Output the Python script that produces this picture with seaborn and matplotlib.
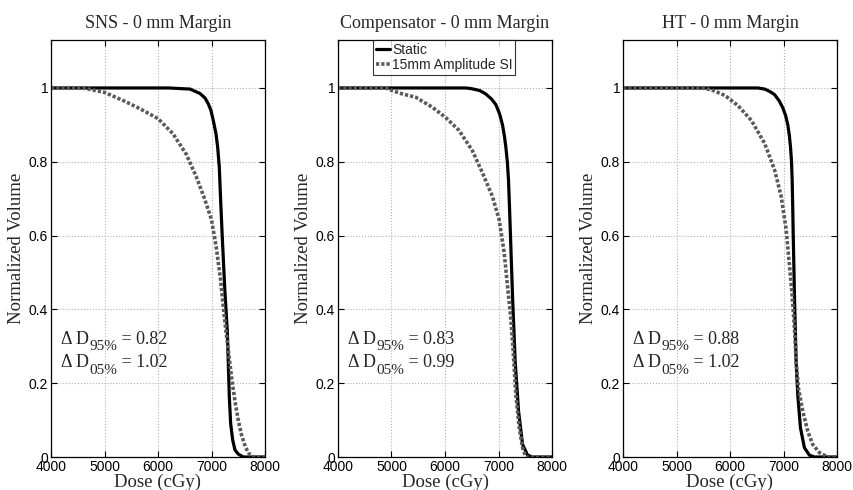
import matplotlib
matplotlib.use("Agg")
import matplotlib.pyplot as plt
import seaborn as sns
import pandas as pd

# ---- data (dose in cGy, normalized volume) ----
panel_titles = ["SNS - 0 mm Margin", "Compensator - 0 mm Margin", "HT - 0 mm Margin"]
series_names = ["Static", "15mm Amplitude SI"]
delta_d95 = ["0.82", "0.83", "0.88"]
delta_d05 = ["1.02", "0.99", "1.02"]

sns_static_dose = [4000, 6200, 6600, 6785, 6878, 6940, 6990, 7033, 7084, 7115, 7146, 7171, 7200, 7250,
                   7296, 7314, 7333, 7358, 7396, 7439, 7500, 7594, 8000]
sns_static_vol = [1.0, 1.0, 0.997, 0.985, 0.973, 0.957, 0.939, 0.912, 0.876, 0.84, 0.785, 0.695, 0.60, 0.45,
                  0.34, 0.254, 0.163, 0.091, 0.046, 0.019, 0.008, 0.0, 0.0]
sns_motion_dose = [4000, 4600, 5000, 5350, 5660, 6000, 6280, 6530, 6714, 6870, 7000, 7087, 7170, 7224,
                   7280, 7330, 7380, 7440, 7500, 7560, 7640, 7720, 7780, 8000]
sns_motion_vol = [1.0, 1.0, 0.988, 0.966, 0.944, 0.917, 0.876, 0.82, 0.76, 0.70, 0.643, 0.57, 0.48, 0.40,
                  0.33, 0.27, 0.21, 0.15, 0.10, 0.06, 0.025, 0.005, 0.0, 0.0]

comp_static_dose = [4000, 6390, 6500, 6650, 6760, 6870, 6950, 7020, 7075, 7110, 7137, 7165, 7187, 7205,
                    7220, 7262, 7312, 7375, 7450, 7543, 7637, 8000]
comp_static_vol = [1.0, 1.0, 0.998, 0.993, 0.984, 0.97, 0.955, 0.93, 0.90, 0.87, 0.84, 0.80, 0.75, 0.68,
                   0.616, 0.437, 0.258, 0.124, 0.034, 0.005, 0.0, 0.0]
comp_motion_dose = [4000, 4890, 5012, 5200, 5450, 5762, 6012, 6262, 6512, 6700, 6887, 7012, 7106, 7168,
                    7231, 7275, 7325, 7387, 7450, 7512, 8000]
comp_motion_vol = [1.0, 1.0, 0.993, 0.984, 0.975, 0.948, 0.92, 0.885, 0.83, 0.77, 0.706, 0.643, 0.554,
                   0.464, 0.375, 0.285, 0.168, 0.079, 0.025, 0.0, 0.0]

ht_static_dose = [4000, 6523, 6650, 6750, 6833, 6920, 6988, 7040, 7081, 7110, 7131, 7150, 7162, 7172,
                  7180, 7205, 7236, 7267, 7317, 7391, 7484, 7577, 8000]
ht_static_vol = [1.0, 1.0, 0.997, 0.99, 0.982, 0.965, 0.946, 0.925, 0.90, 0.87, 0.84, 0.80, 0.75, 0.68,
                 0.616, 0.437, 0.258, 0.168, 0.079, 0.025, 0.005, 0.0, 0.0]
ht_motion_dose = [4000, 5470, 5655, 5903, 6151, 6400, 6647, 6833, 6957, 7050, 7112, 7162, 7205, 7236,
                  7280, 7360, 7453, 7546, 7670, 7825, 8000]
ht_motion_vol = [1.0, 1.0, 0.995, 0.98, 0.952, 0.912, 0.85, 0.778, 0.706, 0.616, 0.518, 0.437, 0.348,
                 0.258, 0.186, 0.124, 0.07, 0.034, 0.012, 0.0, 0.0]

x_ticks = [4000, 5000, 6000, 7000, 8000]
y_ticks = [0, 0.2, 0.4, 0.6, 0.8, 1.0]
y_tick_labels = ["0", "0.2", "0.4", "0.6", "0.8", "1"]

curves = [
    [(sns_static_dose, sns_static_vol), (sns_motion_dose, sns_motion_vol)],
    [(comp_static_dose, comp_static_vol), (comp_motion_dose, comp_motion_vol)],
    [(ht_static_dose, ht_static_vol), (ht_motion_dose, ht_motion_vol)],
]

sns.set_style("ticks")
plt.rcParams["font.family"] = ["Liberation Sans", "DejaVu Sans"]

serif = ["Liberation Serif", "DejaVu Serif"]

fig = plt.figure(figsize=(8.54, 4.90), dpi=100)
lefts = [51 / 854, 338 / 854, 623 / 854]
width = 214 / 854
bottom = 33 / 490
height = 417 / 490

line_styles = [dict(color="black", linewidth=2.3, linestyle="-"),
               dict(color="#5a5a5a", linewidth=2.6, linestyle=(0, (0.9, 0.55)))]


def delta_label(ax, y, sub, value):
    # "Δ D" + lowered subscript + " = value", chained off each other
    t1 = ax.text(4190, y, "\u0394 D", family=serif, fontsize=13, va="bottom")
    t2 = ax.annotate(sub, xy=(1, 0.05), xycoords=t1, family=serif, fontsize=11,
                     va="center", ha="left")
    ax.annotate(" = " + value, xy=(1, 0), xycoords=(t2, t1), family=serif,
                fontsize=13, va="bottom", ha="left")


for k in range(3):
    ax = fig.add_axes([lefts[k], bottom, width, height])
    for j, (dose, vol) in enumerate(curves[k]):
        df = pd.DataFrame({"Dose": dose, "Volume": vol})
        sns.lineplot(data=df, x="Dose", y="Volume", ax=ax, errorbar=None,
                     label=series_names[j], **line_styles[j])
    ax.set_xlim(4000, 8000)
    ax.set_ylim(0, 1.13)
    ax.set_xticks(x_ticks)
    ax.set_yticks(y_ticks)
    ax.set_yticklabels(y_tick_labels)
    ax.grid(True, color="#b0b0b0", linestyle=":", linewidth=0.8)
    ax.tick_params(direction="in", top=True, right=True, length=4, width=0.8,
                   labelsize=10, pad=2, colors="black")
    for sp in ax.spines.values():
        sp.set_linewidth(0.9)
        sp.set_color("black")
    ax.set_title(panel_titles[k], family=serif, fontsize=13, pad=9)
    ax.set_xlabel("Dose (cGy)", family=serif, fontsize=13.5, labelpad=0)
    ax.set_ylabel("Normalized Volume", family=serif, fontsize=13.5, labelpad=3)
    delta_label(ax, 0.296, "95%", delta_d95[k])
    delta_label(ax, 0.232, "05%", delta_d05[k])
    if k == 1:
        leg = ax.legend(loc="upper left", bbox_to_anchor=(0.165, 1.0),
                        borderaxespad=0, fontsize=10, handlelength=1.0,
                        handletextpad=0.15, borderpad=0.2, labelspacing=0.1,
                        frameon=True, fancybox=False)
        leg.get_frame().set_edgecolor("black")
        leg.get_frame().set_linewidth(0.8)
    else:
        ax.get_legend().remove()

fig.savefig("out.png", dpi=100)
